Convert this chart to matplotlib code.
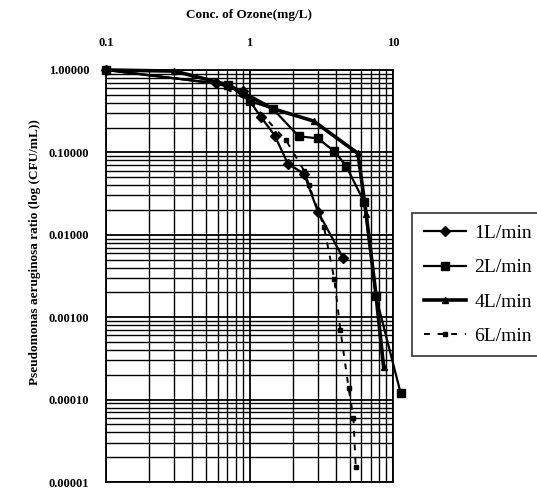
import numpy as np
import matplotlib
matplotlib.use('Agg')
import matplotlib.pyplot as plt
from matplotlib.ticker import LogLocator, NullFormatter, FixedLocator, FixedFormatter

plt.rcParams['font.family'] = ['Liberation Serif', 'DejaVu Serif']

# ozone concentration (mg/L) and survival ratio for each air flow
x_1L = [0.1, 0.58, 0.9, 1.2, 1.5, 1.85, 2.4, 3.0, 4.5]
y_1L = [1.0, 0.69, 0.55, 0.27, 0.16, 0.073, 0.055, 0.019, 0.0052]

x_2L = [0.1, 0.71, 1.0, 1.45, 2.2, 3.0, 3.9, 4.7, 6.3, 7.6, 11.3]
y_2L = [1.0, 0.66, 0.42, 0.34, 0.157, 0.148, 0.103, 0.069, 0.025, 0.0018, 0.00012]

x_4L = [0.1, 0.3, 0.71, 1.45, 2.8, 5.7, 6.5, 7.6, 8.6]
y_4L = [1.0, 0.97, 0.66, 0.34, 0.24, 0.097, 0.018, 0.0019, 0.00025]

x_6L = [0.1, 0.58, 1.0, 1.8, 2.4, 2.6, 3.3, 3.9, 4.3, 4.9, 5.3, 5.5]
y_6L = [1.0, 0.69, 0.42, 0.14, 0.06, 0.04, 0.0125, 0.0029, 0.0007, 0.00014, 0.00006, 0.000015]

labels = ['1L/min', '2L/min', '4L/min', '6L/min']
x_ticks = [0.1, 1, 10]
x_tick_labels = ['0.1', '1', '10']
y_ticks = [1.0, 0.1, 0.01, 0.001, 0.0001, 0.00001]

fig = plt.figure(figsize=(5.37, 4.92), dpi=100)
ax = fig.add_axes([106 / 537, 1 - 482 / 492, (393 - 106) / 537, (482 - 70) / 492])

ax.set_xscale('log')
ax.set_yscale('log')
ax.set_xlim(0.1, 10)
ax.set_ylim(0.00001, 1.0)

# dense black grid like the excel original
ax.xaxis.set_minor_locator(LogLocator(base=10, subs=np.arange(2, 10), numticks=100))
ax.yaxis.set_minor_locator(LogLocator(base=10, subs=np.arange(2, 10), numticks=100))
ax.xaxis.set_minor_formatter(NullFormatter())
ax.yaxis.set_minor_formatter(NullFormatter())
ax.grid(True, which='major', color='black', linewidth=1.3)
ax.grid(True, which='minor', color='black', linewidth=1.0)
ax.set_axisbelow(True)

ax.plot(x_1L, y_1L, color='black', lw=1.6, marker='D', ms=5.5, label=labels[0], clip_on=False, zorder=5)
ax.plot(x_2L, y_2L, color='black', lw=1.6, marker='s', ms=5.5, label=labels[1], clip_on=False, zorder=5)
ax.plot(x_4L, y_4L, color='black', lw=2.6, marker='^', ms=4, label=labels[2], clip_on=False, zorder=5)
ax.plot(x_6L, y_6L, color='black', lw=1.4, ls=(0, (3, 4)), marker='s', ms=2.5,
        label=labels[3], clip_on=False, zorder=5)

ax.xaxis.tick_top()
ax.xaxis.set_major_locator(FixedLocator(x_ticks))
ax.xaxis.set_major_formatter(FixedFormatter(x_tick_labels))
ax.yaxis.set_major_locator(FixedLocator(y_ticks))
ax.yaxis.set_major_formatter(FixedFormatter(['%.5f' % v for v in y_ticks]))
ax.tick_params(axis='x', which='both', length=0, pad=15, labelsize=9)
ax.tick_params(axis='y', which='both', length=0, pad=12, labelsize=9)
for lab in ax.get_xticklabels() + ax.get_yticklabels():
    lab.set_fontweight('bold')

for sp in ax.spines.values():
    sp.set_color('black')
    sp.set_linewidth(1.3)

fig.text(249 / 537, 1 - 15 / 492, 'Conc. of Ozone(mg/L)', ha='center', va='center',
         fontsize=9.5, fontweight='bold')
fig.text(35 / 537, 1 - 252 / 492, 'Pseudomonas aeruginosa ratio (log (CFU/mL))',
         rotation=90, ha='center', va='center', fontsize=9.5, fontweight='bold')

leg = fig.legend(loc='upper left', bbox_to_anchor=(412 / 537, 1 - 213 / 492),
                 fontsize=14, frameon=True, fancybox=False, edgecolor='black',
                 handlelength=2.2, handletextpad=0.4, borderpad=0.6, labelspacing=0.85,
                 borderaxespad=0)
leg.get_frame().set_linewidth(1.2)

fig.savefig('out.png', dpi=100)
